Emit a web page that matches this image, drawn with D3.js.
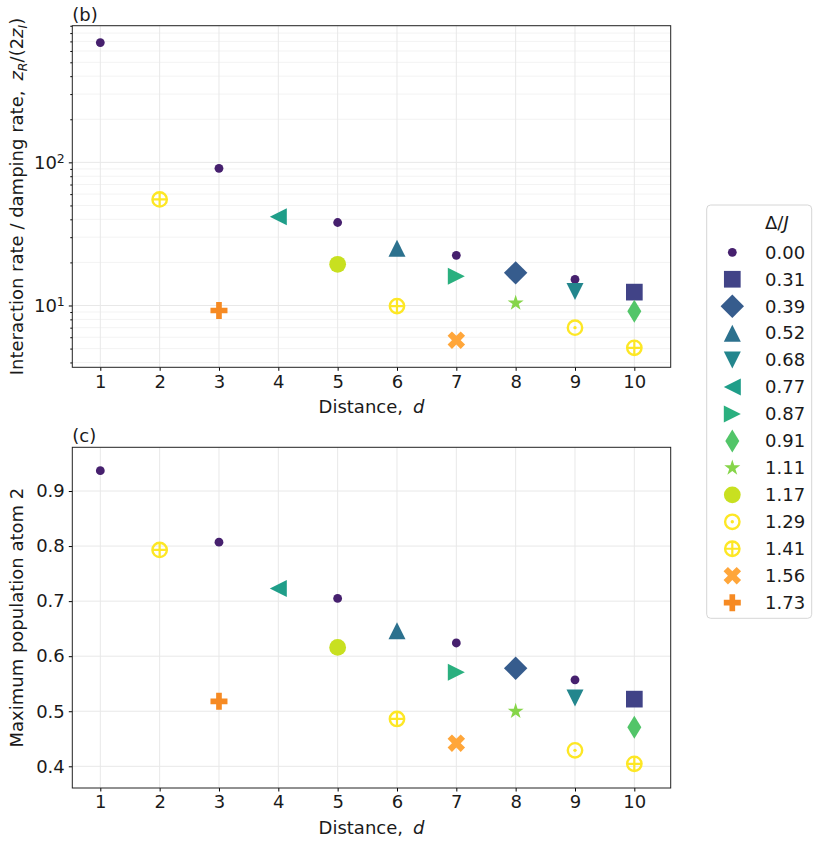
<!DOCTYPE html>
<html>
<head>
<meta charset="utf-8">
<script src="https://cdn.jsdelivr.net/npm/d3@7"></script>
<style>
  body { margin: 0; background: #fff; }
  text { font-family: "DejaVu Sans", sans-serif; fill: #1a1a1a; }
</style>
</head>
<body>
<div id="chart"></div>
<script>
// values
const distances = [1, 2, 3, 4, 5, 6, 7, 8, 9, 10];
const deltaLabels = ['0.00', '0.31', '0.39', '0.52', '0.68', '0.77', '0.87', '0.91', '1.11', '1.17', '1.29', '1.41', '1.56', '1.73'];
const markerColors = ['#46206e', '#414387', '#365c8d', '#2c718e', '#23868d', '#1f9e89', '#2ab07f', '#52c569', '#86d549', '#c8e020', '#fde725', '#fde725', '#ffa63a', '#f68a23'];
const markerShapes = ['dot', 'square', 'diamond', 'triUp', 'triDown', 'triLeft', 'triRight', 'thinDiamond', 'star', 'circle', 'circleDot', 'crosshair', 'xFilled', 'plusFilled'];
const seriesDistance = [[1, 3, 5, 7, 9], [10], [8], [6], [9], [4], [7], [10], [8], [5], [9], [2, 6, 10], [7], [3]];
const rateValues = [[687, 90.8, 38.0, 22.4, 15.2], [12.4], [16.9], [25.1], [12.5], [41.7], [16.0], [9.12], [10.4], [19.4], [7.0], [55.1, 9.9, 5.06], [5.72], [9.23]];
const populationValues = [[0.937, 0.807, 0.705, 0.624, 0.557], [0.522], [0.578], [0.646], [0.524], [0.723], [0.571], [0.471], [0.500], [0.616], [0.429], [0.793, 0.486, 0.4045], [0.442], [0.518]];
const rateTicks = [10, 100];
const rateMinorTicks = [4, 5, 6, 7, 8, 9, 20, 30, 40, 50, 60, 70, 80, 90, 200, 300, 400, 500, 600, 700, 800, 900];
const populationTicks = [0.4, 0.5, 0.6, 0.7, 0.8, 0.9];

const width = 815, height = 844;
const plotLeft = 72.3, plotRight = 670.7;

const svg = d3.select('#chart')
  .append('svg')
    .attr('width', width)
    .attr('height', height);

const x = d3.scaleLinear()
  .domain([0.528, 10.613])
  .range([plotLeft, plotRight]);

const yRate = d3.scaleLog()
  .domain([3.70, 901])
  .range([367.3, 25.7]);

const yPop = d3.scaleLinear()
  .domain([0.3606, 0.9794])
  .range([788, 447.3]);

function markerPath(shape) {
  const p = d3.path();
  const poly = pts => {
    p.moveTo(pts[0][0], pts[0][1]);
    pts.slice(1).forEach(q => p.lineTo(q[0], q[1]));
    p.closePath();
  };
  if (shape === 'dot') p.arc(0, 0, 4.4, 0, 2 * Math.PI);
  if (shape === 'circle') p.arc(0, 0, 8.4, 0, 2 * Math.PI);
  if (shape === 'square') p.rect(-8.35, -8.35, 16.7, 16.7);
  if (shape === 'diamond') poly([[0, -11.7], [11.7, 0], [0, 11.7], [-11.7, 0]]);
  if (shape === 'thinDiamond') poly([[0, -11.5], [7, 0], [0, 11.5], [-7, 0]]);
  if (shape === 'triUp') poly([[0, -8.5], [8.5, 8.5], [-8.5, 8.5]]);
  if (shape === 'triDown') poly([[0, 8.5], [8.5, -8.5], [-8.5, -8.5]]);
  if (shape === 'triLeft') poly([[-8.5, 0], [8.5, -8.5], [8.5, 8.5]]);
  if (shape === 'triRight') poly([[8.5, 0], [-8.5, -8.5], [-8.5, 8.5]]);
  if (shape === 'star') {
    const pts = d3.range(10).map(i => {
      const r = i % 2 ? 8.4 * 0.382 : 8.4;
      const a = i * Math.PI / 5;
      return [r * Math.sin(a), -r * Math.cos(a)];
    });
    poly(pts);
  }
  if (shape === 'xFilled') {
    poly([[-1, -2], [0, -1], [1, -2], [2, -1], [1, 0], [2, 1], [1, 2], [0, 1], [-1, 2], [-2, 1], [-1, 0], [-2, -1]]
      .map(q => [q[0] * 17.5 / 4, q[1] * 17.5 / 4]));
  }
  if (shape === 'plusFilled') {
    poly([[-1, -3], [-1, -1], [-3, -1], [-3, 1], [-1, 1], [-1, 3], [1, 3], [1, 1], [3, 1], [3, -1], [1, -1], [1, -3]]
      .map(q => [q[0] * 17 / 6, q[1] * 17 / 6]));
  }
  return p.toString();
}

function drawMarker(g, shape, color) {
  if (shape === 'circleDot' || shape === 'crosshair') {
    g.append('circle')
      .attr('r', 7.2)
      .attr('fill', 'none')
      .attr('stroke', color)
      .attr('stroke-width', 2.4);
    if (shape === 'circleDot') {
      g.append('circle').attr('r', 1.7).attr('fill', color);
    } else {
      g.append('path')
        .attr('d', 'M-7.2,0H7.2M0,-7.2V7.2')
        .attr('stroke', color)
        .attr('stroke-width', 2.2);
    }
  } else {
    g.append('path')
      .attr('d', markerPath(shape))
      .attr('fill', color);
  }
}

function drawPanel(y, yTicks, values, label, panelTitle, isLog) {
  const [bottom, top] = y.range();
  const panel = svg.append('g');

  // grid
  if (isLog) {
    panel.append('g').selectAll('line')
      .data(rateMinorTicks)
      .enter().append('line')
        .attr('x1', plotLeft).attr('x2', plotRight)
        .attr('y1', d => y(d)).attr('y2', d => y(d))
        .attr('stroke', '#f3f3f3');
  }
  panel.append('g').selectAll('line')
    .data(yTicks)
    .enter().append('line')
      .attr('x1', plotLeft).attr('x2', plotRight)
      .attr('y1', d => y(d)).attr('y2', d => y(d))
      .attr('stroke', '#e8e8e8');
  panel.append('g').selectAll('line')
    .data(distances)
    .enter().append('line')
      .attr('x1', d => x(d)).attr('x2', d => x(d))
      .attr('y1', top).attr('y2', bottom)
      .attr('stroke', '#e8e8e8');

  // axes
  panel.append('g')
    .attr('transform', `translate(0,${bottom})`)
    .call(d3.axisBottom(x).tickValues(distances).tickSize(3.5).tickPadding(4).tickFormat(d3.format('d')))
    .call(g => g.select('.domain').remove())
    .call(g => g.selectAll('.tick text').attr('font-size', 18).attr('font-family', 'DejaVu Sans'));

  const yAxis = panel.append('g')
    .attr('transform', `translate(${plotLeft},0)`)
    .call(d3.axisLeft(y).tickValues(yTicks).tickSize(3.5).tickPadding(4).tickFormat(isLog ? () => '' : d3.format('.1f')))
    .call(g => g.select('.domain').remove())
    .call(g => g.selectAll('.tick text').attr('font-size', 18).attr('font-family', 'DejaVu Sans'));

  if (isLog) {
    yAxis.selectAll('.tick text').each(function(d) {
      const t = d3.select(this);
      t.append('tspan').text('10');
      t.append('tspan').attr('dy', '-0.45em').attr('font-size', 12.5).text(Math.round(Math.log10(d)));
    });
    panel.append('g')
      .attr('transform', `translate(${plotLeft},0)`)
      .call(d3.axisLeft(y).tickValues(rateMinorTicks).tickSize(2).tickFormat(() => ''))
      .call(g => g.select('.domain').remove());
  }

  panel.append('rect')
    .attr('x', plotLeft).attr('y', top)
    .attr('width', plotRight - plotLeft).attr('height', bottom - top)
    .attr('fill', 'none')
    .attr('stroke', '#222')
    .attr('stroke-width', 1);

  // markers
  markerShapes.forEach((shape, i) => {
    seriesDistance[i].forEach((d, j) => {
      const g = panel.append('g')
        .attr('transform', `translate(${x(d)},${y(values[i][j])})`);
      drawMarker(g, shape, markerColors[i]);
    });
  });

  // titles and labels
  panel.append('text')
    .attr('x', plotLeft)
    .attr('y', top - 5)
    .attr('font-size', 18)
    .text(panelTitle);

  const xl = panel.append('text')
    .attr('x', (plotLeft + plotRight) / 2)
    .attr('y', bottom + 46)
    .attr('text-anchor', 'middle')
    .attr('font-size', 18);
  xl.append('tspan').text('Distance,');
  xl.append('tspan').attr('dx', 10).attr('font-style', 'italic').text('d');

  const yl = panel.append('text')
    .attr('transform', `translate(23,${(top + bottom) / 2}) rotate(-90)`)
    .attr('text-anchor', 'middle')
    .attr('font-size', 18);
  label(yl);
}

drawPanel(yRate, rateTicks, rateValues, t => {
  t.append('tspan').text('Interaction rate / damping rate,');
  t.append('tspan').attr('dx', 10).attr('font-style', 'italic').text('z');
  t.append('tspan').attr('dy', 4).attr('font-size', 12.5).attr('font-style', 'italic').text('R');
  t.append('tspan').attr('dy', -4).text('/(2');
  t.append('tspan').attr('font-style', 'italic').text('z');
  t.append('tspan').attr('dy', 4).attr('font-size', 12.5).attr('font-style', 'italic').text('I');
  t.append('tspan').attr('dy', -4).text(')');
}, '(b)', true);

drawPanel(yPop, populationTicks, populationValues, t => {
  t.text('Maximum population atom 2');
}, '(c)', false);

// legend
const legend = svg.append('g');
legend.append('rect')
  .attr('x', 706.7).attr('y', 205)
  .attr('width', 105).attr('height', 413.3)
  .attr('rx', 4)
  .attr('fill', '#fff')
  .attr('stroke', '#d6d6d6');

const lt = legend.append('text')
  .attr('x', 765).attr('y', 229)
  .attr('font-size', 18);
lt.append('tspan').text('Δ/');
lt.append('tspan').attr('font-style', 'italic').text('J');

deltaLabels.forEach((lab, i) => {
  const cy = 252.3 + i * 26.95;
  const g = legend.append('g').attr('transform', `translate(732.3,${cy})`);
  drawMarker(g, markerShapes[i], markerColors[i]);
  legend.append('text')
    .attr('x', 765).attr('y', cy + 6.3)
    .attr('font-size', 18)
    .text(lab);
});
</script>
</body>
</html>
